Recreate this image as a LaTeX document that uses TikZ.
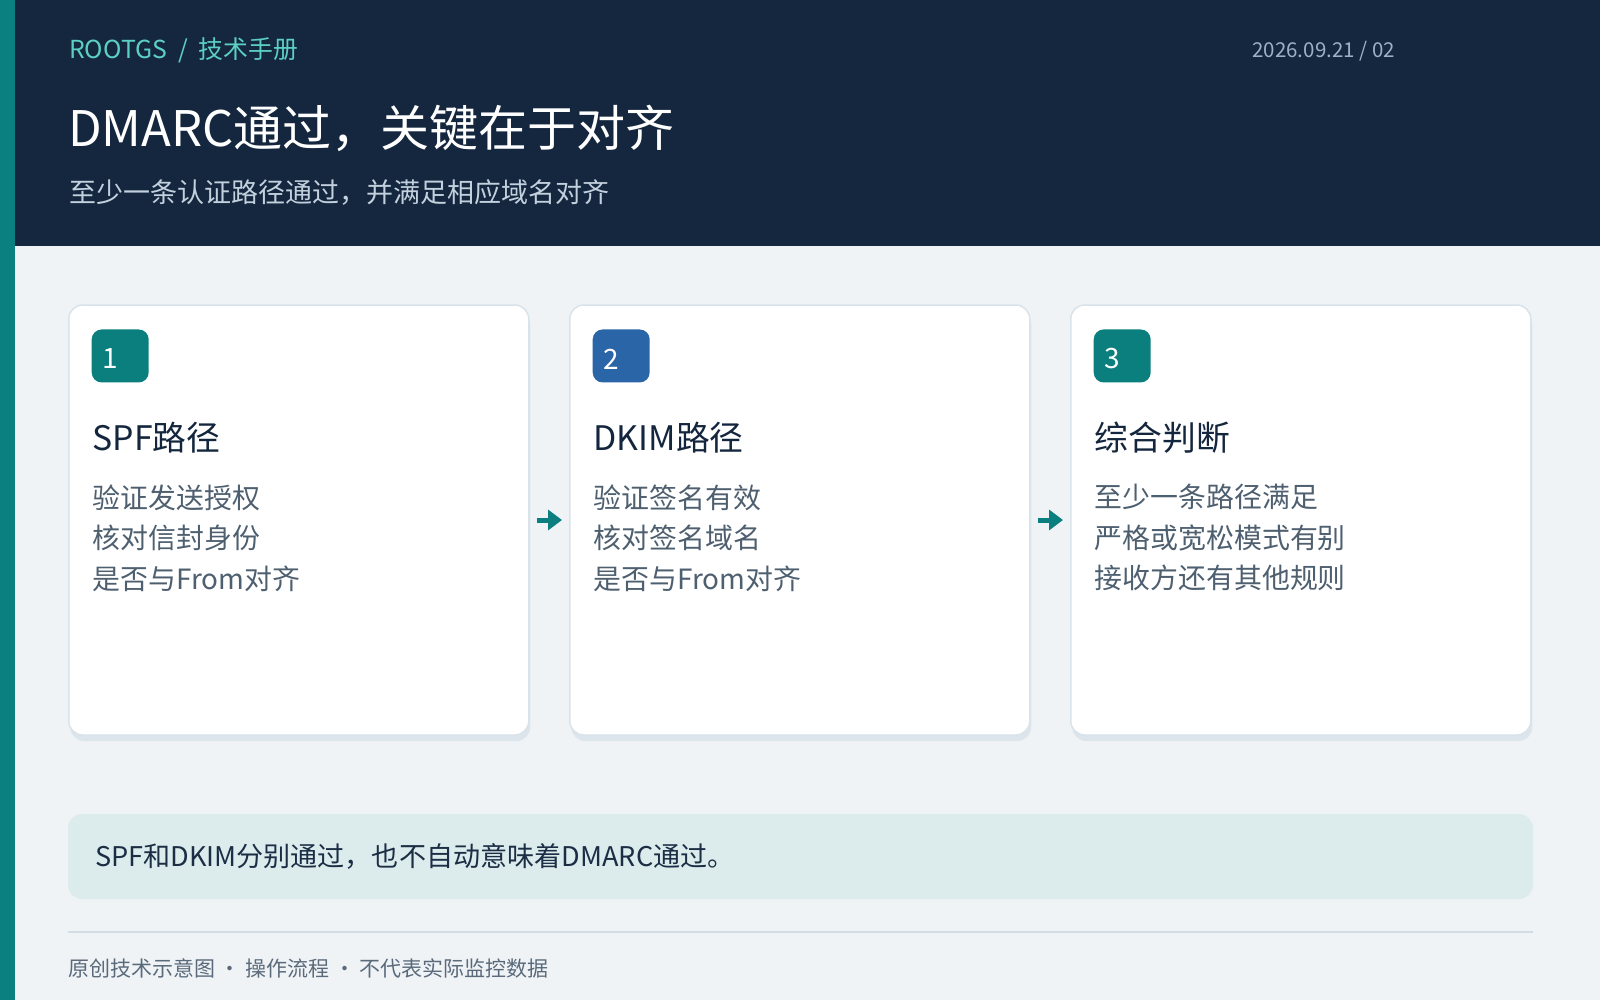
\documentclass[tikz,border=0pt]{standalone}
\usepackage{fontspec}
\setmainfont{Noto Sans CJK SC}
\usetikzlibrary{positioning,shadows,arrows.meta}
\definecolor{navy}{HTML}{14273F}
\definecolor{stripe}{HTML}{0B8080}
\definecolor{pagebg}{HTML}{EFF3F6}
\definecolor{tealbadge}{HTML}{0B7E7E}
\definecolor{bluebadge}{HTML}{2A65A8}
\definecolor{cardline}{HTML}{D9E3EA}
\definecolor{cardshade}{HTML}{DCE5EB}
\definecolor{ink}{HTML}{14263D}
\definecolor{bodytext}{HTML}{4E5F70}
\definecolor{brandteal}{HTML}{5CCFC3}
\definecolor{subtext}{HTML}{C3D0DD}
\definecolor{datetext}{HTML}{9DB1C6}
\definecolor{notefill}{HTML}{DCECEC}
\definecolor{notetext}{HTML}{1B2E45}
\definecolor{rulecol}{HTML}{D3DDE4}
\definecolor{foottext}{HTML}{5A6A7B}
\definecolor{tealmark}{HTML}{0B7F80}

\begin{document}
\begin{tikzpicture}[x=1pt,y=-1pt,
    card/.style={draw=cardline,line width=1.5pt,fill=white,rounded corners=14pt,minimum width=460pt,minimum height=430pt,
      drop shadow={shadow xshift=1.5pt,shadow yshift=-6pt,fill=cardshade,opacity=1}},
    badge/.style={rounded corners=10pt,text=white,inner xsep=11pt,inner ysep=0pt,text width=35pt,align=left,
      minimum height=53pt,anchor=north west,font=\fontsize{28}{28}\selectfont},
    cardtitle/.style={anchor=west,inner sep=0pt,text=ink,font=\fontsize{33.8}{33.8}\selectfont},
    cardbody/.style={anchor=north west,inner sep=0pt,align=left,text=bodytext,font=\fontsize{27.9}{40.5}\selectfont},
    flow/.style={draw=tealmark,line width=5pt,-{Triangle[length=14pt,width=20pt]},shorten <=7pt,shorten >=7pt},
    headtext/.style={inner sep=0pt,anchor=west}]
  \useasboundingbox (0,0) rectangle (1600,1000);
  \fill[pagebg] (0,0) rectangle (1600,1000);
  \fill[navy] (0,0) rectangle (1600,246);
  \fill[stripe] (0,0) rectangle (15,1000);

  \node[headtext,text=brandteal,font=\fontsize{24.8}{24.8}\selectfont] (brand) at (69,50) {ROOTGS\hspace{11pt}/\hspace{11pt}技术手册};
  \node[headtext,anchor=east,text=datetext,font=\fontsize{20.5}{20.5}\selectfont] (date) at (1395,51) {2026.09.21 / 02};
  \node[headtext,text=white,font=\fontsize{49}{49}\selectfont] (title) at (68,128) {DMARC通过，关键在于对齐};
  \node[headtext,text=subtext,font=\fontsize{27}{27}\selectfont] (subtitle) at (69,192) {至少一条认证路径通过，并满足相应域名对齐};

  \node[card] (spf) at (298.75,520) {};
  \node[card,right=39.5pt of spf] (dkim) {};
  \node[card,right=39.5pt of dkim] (judge) {};

  \node[badge,fill=tealbadge] (n1) at ([xshift=23.5pt,yshift=-25pt]spf.north west) {\raisebox{-3pt}[\height][\depth]{1}};
  \node[cardtitle] (t1) at ([xshift=24.5pt,yshift=-133pt]spf.north west) {SPF路径};
  \node[cardbody] (d1) at ([xshift=24.5pt,yshift=-180pt]spf.north west) {验证发送授权\\核对信封身份\\是否与From对齐};

  \node[badge,fill=bluebadge] (n2) at ([xshift=23.5pt,yshift=-25pt]dkim.north west) {\raisebox{-3pt}[\height][\depth]{2}};
  \node[cardtitle] (t2) at ([xshift=24.5pt,yshift=-133pt]dkim.north west) {DKIM路径};
  \node[cardbody] (d2) at ([xshift=24.5pt,yshift=-180pt]dkim.north west) {验证签名有效\\核对签名域名\\是否与From对齐};

  \node[badge,fill=tealbadge] (n3) at ([xshift=23.5pt,yshift=-25pt]judge.north west) {\raisebox{-3pt}[\height][\depth]{3}};
  \node[cardtitle] (t3) at ([xshift=24.5pt,yshift=-133pt]judge.north west) {综合判断};
  \node[cardbody] (d3) at ([xshift=24.5pt,yshift=-180pt]judge.north west) {至少一条路径满足\\严格或宽松模式有别\\接收方还有其他规则};

  \draw[flow] (spf) -- (dkim);
  \draw[flow] (dkim) -- (judge);

  \node[fill=notefill,rounded corners=14pt,minimum width=1465pt,minimum height=85pt,inner xsep=27pt,text width=1411pt,align=left,
    text=notetext,font=\fontsize{27.1}{27.1}\selectfont] (note) at (800.5,856.5) {SPF和DKIM分别通过，也不自动意味着DMARC通过。};
  \draw[rulecol,line width=2pt] (68,932) -- (1533,932);
  \node[headtext,text=foottext,font=\fontsize{21}{21}\selectfont] (foot) at (68,968) {原创技术示意图 · 操作流程 · 不代表实际监控数据};
\end{tikzpicture}
\end{document}
